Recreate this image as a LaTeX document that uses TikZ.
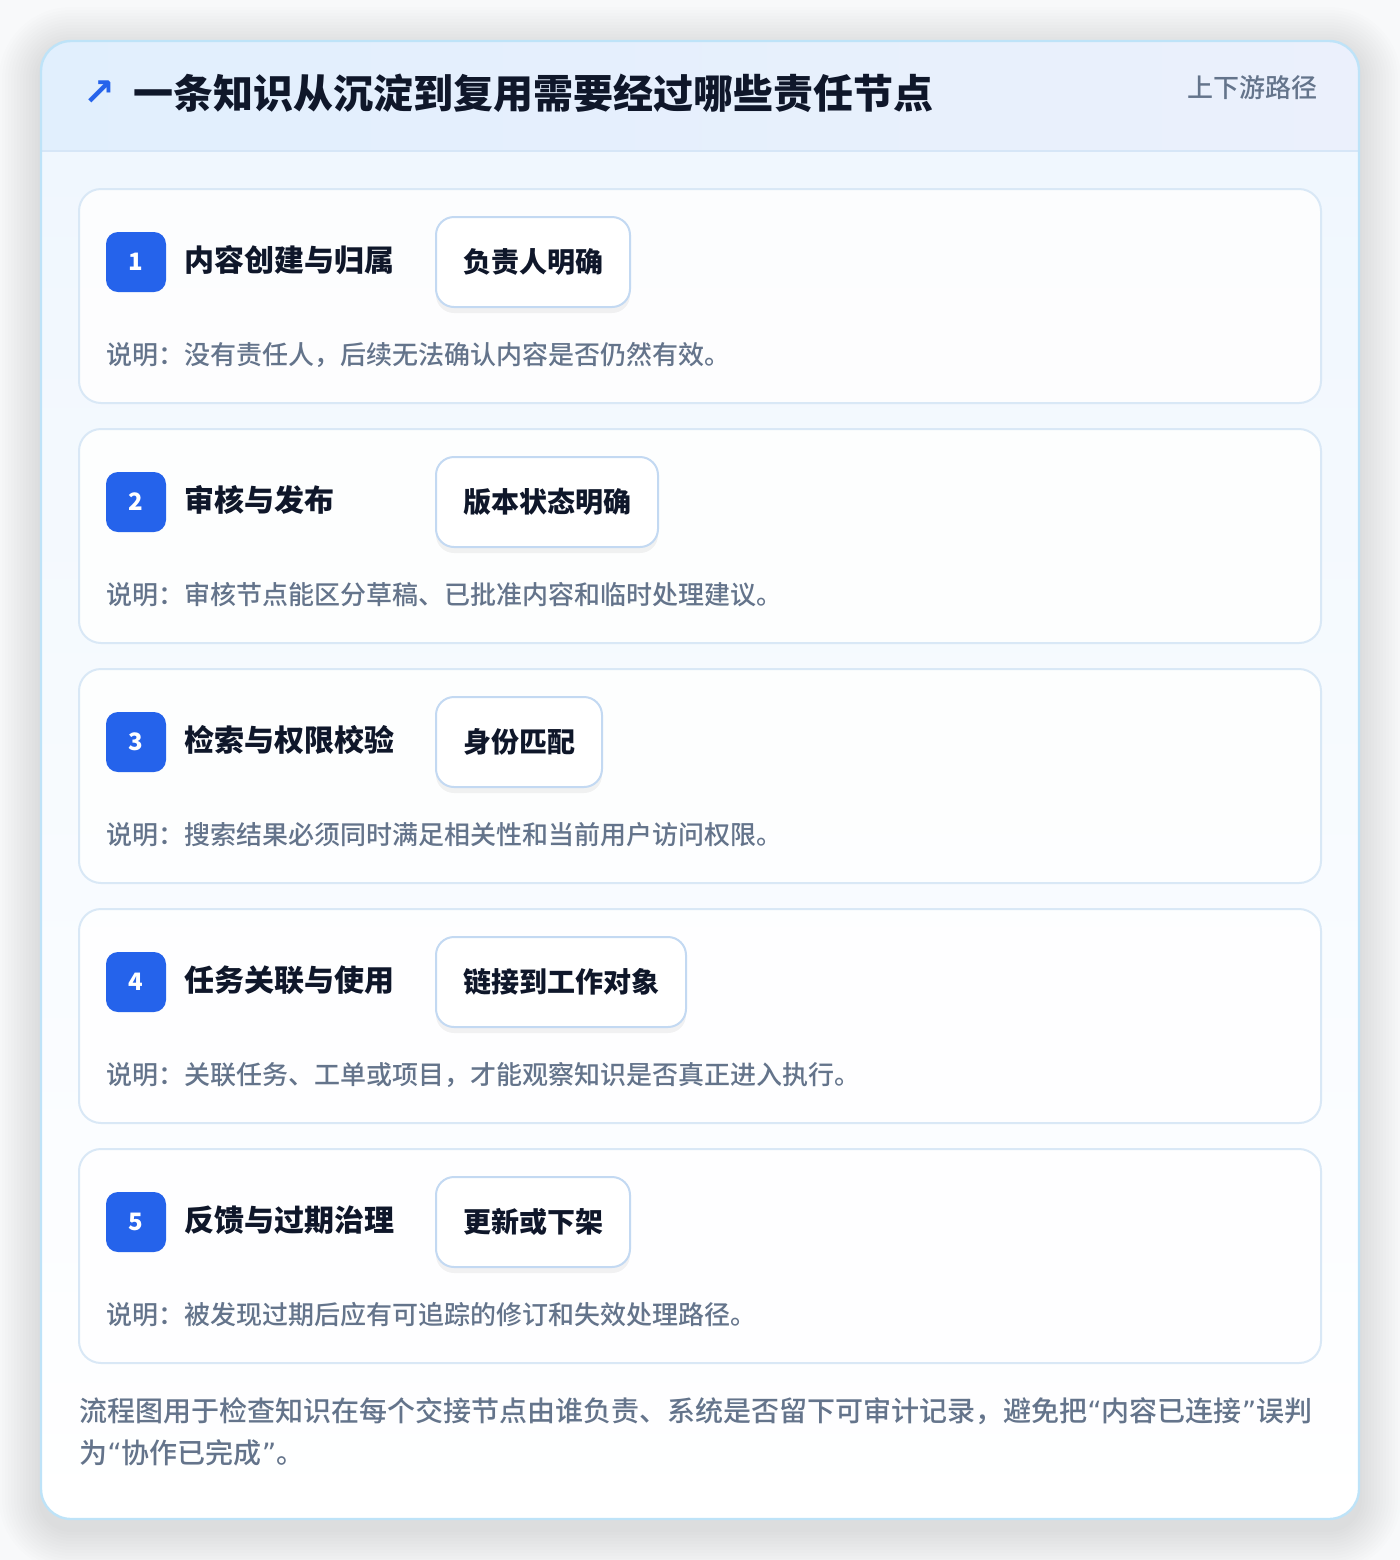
\documentclass[tikz,border=0pt]{standalone}
\usepackage{fontspec}
\setmainfont{Noto Sans CJK SC}
\newfontfamily\notefont{Noto Sans CJK SC Medium}
\newfontfamily\symfont{DejaVu Sans}
\usepackage{xcolor}
\usepackage{tikz}
\usetikzlibrary{shadows}

\definecolor{pagebg}{HTML}{F8F9FA}
\definecolor{stepblue}{HTML}{2563EB}
\definecolor{ink}{HTML}{0F172A}
\definecolor{mutedink}{HTML}{64748B}
\definecolor{frameline}{HTML}{BEE3F8}
\definecolor{headleft}{HTML}{E1EFFD}
\definecolor{headright}{HTML}{EBF0FC}
\definecolor{headrule}{HTML}{D6E6F7}
\definecolor{bodytop}{HTML}{F0F7FE}
\definecolor{rowline}{HTML}{D9E8F6}
\definecolor{tagline}{HTML}{C3D9F2}

% narrow quotes as in the reference
\newcommand\openq{{\symfont “}}
\newcommand\closeq{{\symfont ”}}

\tikzset{
    rowcard/.style={draw=rowline, line width=1pt, fill=white, fill opacity=0.85, rounded corners=11pt},
    badge/.style={fill=stepblue, text=white, rounded corners=6pt, minimum size=30pt,
        inner sep=0pt, font=\fontsize{12}{12}\selectfont\bfseries},
    steptitle/.style={anchor=west, inner sep=0pt, text=ink, font=\fontsize{15}{15}\selectfont\bfseries},
    tagbox/.style={anchor=west, draw=tagline, line width=1pt, fill=white, rounded corners=9pt,
        minimum height=45pt, inner xsep=13.5pt, inner ysep=0pt, text=ink,
        font=\fontsize{14}{14}\selectfont\bfseries,
        drop shadow={shadow xshift=0pt, shadow yshift=-3pt, opacity=0.05, fill=black}},
    stepnote/.style={anchor=west, inner sep=0pt, text=mutedink, font=\notefont\fontsize{13}{13}\selectfont}
}

\begin{document}
\begin{tikzpicture}[x=0.5pt, y=-0.5pt]
    \useasboundingbox (0,0) rectangle (1400,1560);
    \fill[pagebg] (0,0) rectangle (1400,1560);

    % Soft shadow under the card
    \foreach \s in {1,...,14} {
        \pgfmathsetmacro\rad{15+1.5*\s}
        \fill[black, opacity=0.007, rounded corners=\rad pt]
            (41-3*\s,49-3*\s) rectangle (1359+3*\s,1529+3*\s);
    }

    % Outer card
    \fill[white, rounded corners=15pt] (41,41) rectangle (1359,1519);
    \begin{scope}
        \clip[rounded corners=15pt] (41,41) rectangle (1359,1519);
        \shade[top color=bodytop, bottom color=white] (41,151) rectangle (1359,1519);
        \shade[left color=headleft, right color=headright] (41,41) rectangle (1359,151);
        \draw[headrule, line width=1pt] (41,151) -- (1359,151);
    \end{scope}
    \draw[frameline, line width=1.2pt, rounded corners=15pt] (41,41) rectangle (1359,1519);

    % Header
    \node[text=stepblue, font=\symfont\fontsize{19}{19}\selectfont\bfseries] (arrow) at (99,93) {↗};
    \node[anchor=west, inner sep=0pt, text=ink, font=\fontsize{20}{20}\selectfont\bfseries]
        (title) at (133,93) {一条知识从沉淀到复用需要经过哪些责任节点};
    \node[anchor=east, inner sep=0pt, text=mutedink, font=\notefont\fontsize{13}{13}\selectfont]
        (flowhint) at (1318,88) {上下游路径};

    % Steps
    \foreach \n/\ttl/\tag/\desc in {
        1/{内容创建与归属}/{负责人明确}/{说明：没有责任人，后续无法确认内容是否仍然有效。},
        2/{审核与发布}/{版本状态明确}/{说明：审核节点能区分草稿、已批准内容和临时处理建议。},
        3/{检索与权限校验}/{身份匹配}/{说明：搜索结果必须同时满足相关性和当前用户访问权限。},
        4/{任务关联与使用}/{链接到工作对象}/{说明：关联任务、工单或项目，才能观察知识是否真正进入执行。},
        5/{反馈与过期治理}/{更新或下架}/{说明：被发现过期后应有可追踪的修订和失效处理路径。}} {
        \pgfmathsetmacro\rowtop{189+240*(\n-1)}
        \draw[rowcard] (79,\rowtop) rectangle (1321,\rowtop+214);
        \node[badge] (badge\n) at (136,\rowtop+73) {\n};
        \node[steptitle] (step\n) at (184,\rowtop+71) {\ttl};
        \node[tagbox] (tag\n) at (435,\rowtop+73) {\tag};
        \node[stepnote] (note\n) at (106,\rowtop+166) {\desc};
    }

    % Footer note
    \node[anchor=north west, inner sep=0pt, align=left, text=mutedink,
        font=\notefont\fontsize{14}{21}\selectfont] (footer) at (79,1397)
        {流程图用于检查知识在每个交接节点由谁负责、系统是否留下可审计记录，避免把\openq 内容已连接\closeq 误判\\为\openq 协作已完成\closeq 。};
\end{tikzpicture}
\end{document}
